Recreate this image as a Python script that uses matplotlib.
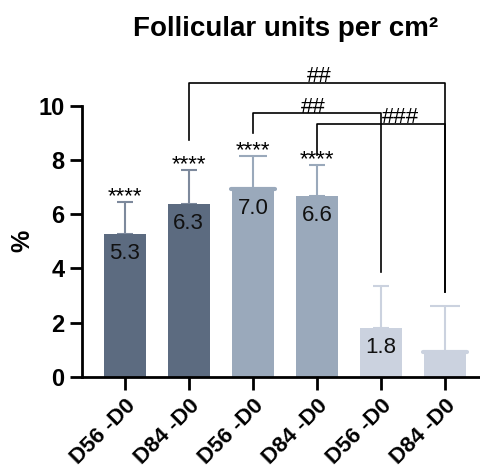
import matplotlib.pyplot as plt

plt.rcParams['font.family'] = ['Liberation Sans', 'DejaVu Sans']

# Data
labels = ['D56 -D0', 'D84 -D0', 'D56 -D0', 'D84 -D0', 'D56 -D0', 'D84 -D0']
means = [5.26, 6.37, 6.94, 6.67, 1.82, 0.93]
err_top = [6.46, 7.62, 8.15, 7.81, 3.36, 2.63]
value_text = ['5.3', '6.3', '7.0', '6.6', '1.8', '']
stars = ['****', '****', '****', '****', '', '']
colors = ['#5c6b80', '#5c6b80', '#9aa9bb', '#9aa9bb', '#cbd2df', '#cbd2df']
err_colors = ['#7d899c', '#7d899c', '#9aa9bb', '#9aa9bb', '#cbd2df', '#cbd2df']
caps = [6, 6, 10, 6, 6, 11]

# brackets: (left bar, right bar, left bottom, right bottom, top)
brackets = [
    (1, 5, 8.73, 3.14, 10.84),
    (2, 4, 9.00, 3.88, 9.71),
    (3, 5, 8.18, 3.14, 9.31),
]

fig = plt.figure(figsize=(4.81, 4.65), dpi=100)
ax = fig.add_axes([0.170, 0.189, 0.83, 0.584])

x = list(range(len(means)))
errs = [t - m for t, m in zip(err_top, means)]

for i in x:
    ax.errorbar(i, means[i], yerr=[[0], [errs[i]]], fmt='none',
                ecolor=err_colors[i], elinewidth=1.5, capsize=caps[i], capthick=1.5,
                zorder=1)
ax.bar(x, means, width=0.66, color=colors, zorder=2)

# slightly raised rim on the tallest bar of each pair
for i in (2, 5):
    ax.plot([i - 0.34, i + 0.34], [means[i], means[i]], color=colors[i],
            lw=3, solid_capstyle='round', zorder=3)

for i in x:
    if value_text[i]:
        ax.text(i, means[i] - 0.33, value_text[i], ha='center', va='top',
                fontsize=16, color='#111111', zorder=4)
    if stars[i]:
        ax.text(i, err_top[i] - 0.2, stars[i], ha='center', va='bottom',
                fontsize=16, zorder=4)

for l, r, yl, yr, top in brackets:
    ax.plot([l, l, r, r], [yl, top, top, yr], color='black', lw=1.2,
            clip_on=False, zorder=5)

ax.text(3.03, 10.87, '##', ha='center', va='baseline', fontsize=16)
ax.text(2.95, 9.74, '##', ha='center', va='baseline', fontsize=16)
ax.text(4.3, 9.34, '###', ha='center', va='baseline', fontsize=16)

ax.set_xlim(-0.67, 5.56)
ax.set_ylim(0, 10)
ax.set_yticks([0, 2, 4, 6, 8, 10])
ax.set_xticks(x)
ax.set_xticklabels(labels, rotation=45, ha='right', rotation_mode='anchor',
                   fontsize=16, fontweight='bold')
for t in ax.get_yticklabels():
    t.set_fontweight('bold')
    t.set_fontsize(17)
ax.tick_params(axis='both', width=2, length=9, color='black')
ax.tick_params(axis='x', pad=4)

ax.spines['top'].set_visible(False)
ax.spines['right'].set_visible(False)
ax.spines['left'].set_linewidth(2)
ax.spines['bottom'].set_linewidth(2)

ax.set_ylabel('%', fontsize=18, fontweight='bold', labelpad=3)
fig.text(0.593, 0.937, 'Follicular units per cm\u00b2', ha='center', va='center',
         fontsize=20, fontweight='bold')

fig.savefig('out.png', dpi=100)
